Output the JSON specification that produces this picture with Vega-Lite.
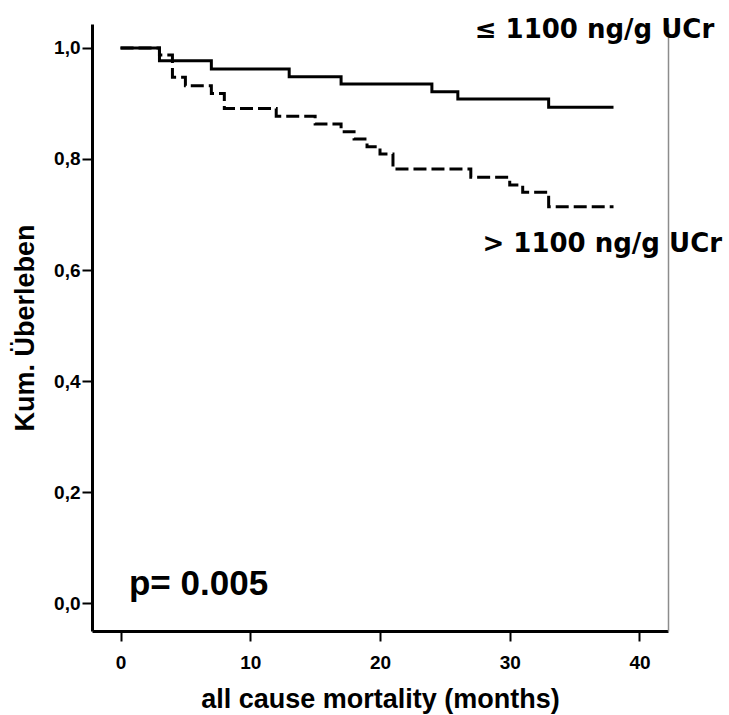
{
  "$schema": "https://vega.github.io/schema/vega-lite/v6.json",
  "width": 576,
  "height": 607,
  "autosize": {"type": "none"},
  "padding": {"left": 92, "top": 24, "right": 61, "bottom": 84},
  "background": "white",
  "config": {
    "view": {"stroke": null},
    "axis": {
      "grid": false,
      "domainColor": "black",
      "domainWidth": 3,
      "tickColor": "black",
      "tickWidth": 2,
      "tickSize": 10,
      "labelFont": "Liberation Sans",
      "labelFontWeight": "bold",
      "labelFontSize": 19,
      "labelColor": "black",
      "titleFont": "Liberation Sans",
      "titleFontWeight": "bold",
      "titleFontSize": 27,
      "titleColor": "black"
    }
  },
  "datasets": {
    "km": [
      {"group": "≤ 1100", "month": 0, "surv": 1.0},
      {"group": "≤ 1100", "month": 3, "surv": 0.977},
      {"group": "≤ 1100", "month": 7, "surv": 0.962},
      {"group": "≤ 1100", "month": 13, "surv": 0.948},
      {"group": "≤ 1100", "month": 17, "surv": 0.935},
      {"group": "≤ 1100", "month": 24, "surv": 0.921},
      {"group": "≤ 1100", "month": 26, "surv": 0.908},
      {"group": "≤ 1100", "month": 33, "surv": 0.893},
      {"group": "≤ 1100", "month": 38, "surv": 0.893},
      {"group": "> 1100", "month": 0, "surv": 1.0},
      {"group": "> 1100", "month": 3, "surv": 0.987},
      {"group": "> 1100", "month": 4, "surv": 0.947},
      {"group": "> 1100", "month": 5, "surv": 0.932},
      {"group": "> 1100", "month": 7, "surv": 0.918},
      {"group": "> 1100", "month": 8, "surv": 0.891},
      {"group": "> 1100", "month": 12, "surv": 0.877},
      {"group": "> 1100", "month": 15, "surv": 0.863},
      {"group": "> 1100", "month": 17, "surv": 0.849},
      {"group": "> 1100", "month": 18, "surv": 0.836},
      {"group": "> 1100", "month": 19, "surv": 0.822},
      {"group": "> 1100", "month": 20, "surv": 0.809},
      {"group": "> 1100", "month": 21, "surv": 0.782},
      {"group": "> 1100", "month": 27, "surv": 0.767},
      {"group": "> 1100", "month": 30, "surv": 0.753},
      {"group": "> 1100", "month": 31, "surv": 0.74},
      {"group": "> 1100", "month": 33, "surv": 0.714},
      {"group": "> 1100", "month": 38, "surv": 0.714}
    ],
    "labels": [
      {"text": "≤ 1100 ng/g UCr", "month": 27.3, "surv": 1.018},
      {"text": "> 1100 ng/g UCr", "month": 27.9, "surv": 0.632}
    ],
    "pval": [
      {"text": "p= 0.005", "month": 0.65, "surv": 0.014}
    ]
  },
  "resolve": {"axis": {"y": "independent"}},
  "layer": [
    {
      "data": {"name": "km"},
      "mark": {"type": "line", "interpolate": "step-after", "color": "black", "strokeWidth": 3},
      "encoding": {
        "x": {
          "field": "month", "type": "quantitative",
          "scale": {"domain": [-2.2, 42.2], "nice": false, "zero": false},
          "axis": {"values": [0, 10, 20, 30, 40], "title": "all cause mortality (months)", "labelPadding": 12, "titlePadding": 14}
        },
        "y": {
          "field": "surv", "type": "quantitative",
          "scale": {"domain": [-0.05, 1.043], "nice": false, "zero": false},
          "axis": {
            "values": [0, 0.2, 0.4, 0.6, 0.8, 1.0],
            "labelExpr": "replace(format(datum.value, '.1f'), '.', ',')",
            "title": "Kum. Überleben",
            "labelPadding": 2,
            "titlePadding": 14
          }
        },
        "strokeDash": {
          "field": "group", "type": "nominal",
          "scale": {"domain": ["≤ 1100", "> 1100"], "range": [[1, 0], [13, 5]]},
          "legend": null
        }
      }
    },
    {
      "data": {"name": "labels"},
      "mark": {"type": "text", "align": "left", "baseline": "alphabetic", "font": "DejaVu Sans", "fontWeight": "bold", "fontSize": 26, "color": "black"},
      "encoding": {
        "x": {"field": "month", "type": "quantitative"},
        "y": {
          "field": "surv", "type": "quantitative",
          "axis": {"orient": "right", "labels": false, "ticks": false, "title": null, "domainColor": "#8c8c8c", "domainWidth": 1.5}
        },
        "text": {"field": "text"}
      }
    },
    {
      "data": {"name": "pval"},
      "mark": {"type": "text", "align": "left", "baseline": "alphabetic", "font": "Liberation Sans", "fontWeight": "bold", "fontSize": 35, "color": "black"},
      "encoding": {
        "x": {"field": "month", "type": "quantitative"},
        "y": {"field": "surv", "type": "quantitative", "axis": null},
        "text": {"field": "text"}
      }
    }
  ]
}
